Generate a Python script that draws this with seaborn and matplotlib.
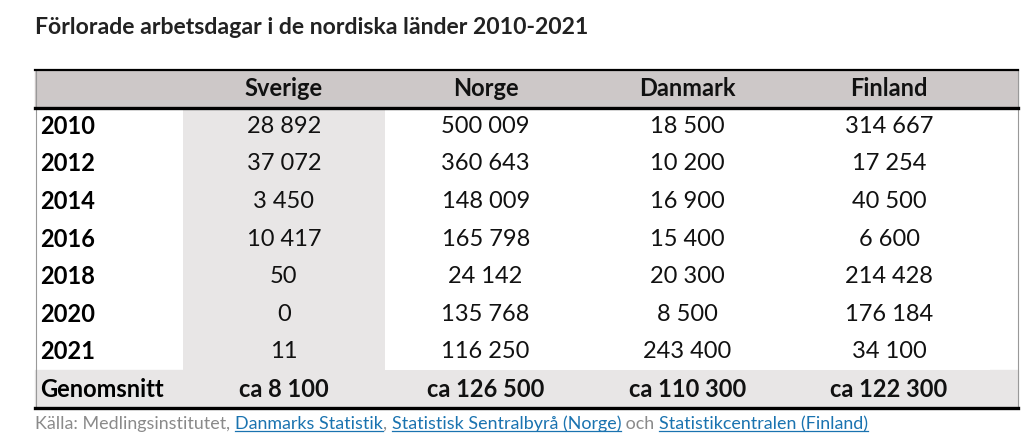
import numpy as np
import pandas as pd
import matplotlib
matplotlib.use("Agg")
import matplotlib.pyplot as plt
import seaborn as sns
from matplotlib.colors import ListedColormap
from matplotlib.patches import Rectangle
from matplotlib.lines import Line2D

title = "Förlorade arbetsdagar i de nordiska länder 2010-2021"
countries = ["Sverige", "Norge", "Danmark", "Finland"]
years = ["2010", "2012", "2014", "2016", "2018", "2020", "2021"]
sverige = ["28 892", "37 072", "3 450", "10 417", "50", "0", "11"]
norge = ["500 009", "360 643", "148 009", "165 798", "24 142", "135 768", "116 250"]
danmark = ["18 500", "10 200", "16 900", "15 400", "20 300", "8 500", "243 400"]
finland = ["314 667", "17 254", "40 500", "6 600", "214 428", "176 184", "34 100"]
avg_label = "Genomsnitt"
averages = ["ca 8 100", "ca 126 500", "ca 110 300", "ca 122 300"]
source_parts = [("Källa: Medlingsinstitutet", False), (", ", False),
                ("Danmarks Statistik", True), (", ", False),
                ("Statistisk Sentralbyrå (Norge)", True), (" och ", False),
                ("Statistikcentralen (Finland)", True)]

plt.rcParams["font.family"] = "Lato"
W, H = 1024, 444
fig = plt.figure(figsize=(W / 100, H / 100), dpi=100)

def fx(x): return x / W
def fy(y): return 1 - y / H

HDR, LIGHT = "#cdc8c8", "#e8e6e6"
top, bottom = 70, 408
rows = len(years) + 2
rh = (bottom - top) / rows
FS = 17

# full-width bands for header and average rows
fig.patches.append(Rectangle((fx(35), fy(top + rh)), fx(983), rh / H, color=HDR, transform=fig.transFigure, zorder=0))
fig.patches.append(Rectangle((fx(35), fy(bottom)), fx(983), rh / H, color=LIGHT, transform=fig.transFigure, zorder=0))

# shading grid for the data columns
shade = np.zeros((rows, 4))
shade[0, :] = 2
shade[1:-1, 0] = 1
shade[-1, :] = 1
labels = [countries] + [list(r) for r in zip(sverige, norge, danmark, finland)] + [averages]
annot = pd.DataFrame(labels)
ax = fig.add_axes([fx(183), fy(bottom), fx(990 - 183), (bottom - top) / H])
sns.heatmap(pd.DataFrame(shade), ax=ax, cmap=ListedColormap(["#ffffff", LIGHT, HDR]), vmin=-0.5, vmax=2.5,
            cbar=False, annot=annot, fmt="", xticklabels=False, yticklabels=False,
            annot_kws={"fontsize": FS, "color": "#111111"})
ax.patch.set_alpha(0)
for t in ax.texts:
    x, y = t.get_position()
    if y < 1 or y > rows - 1:
        t.set_fontweight("bold")
ax.set_zorder(1)

# row labels
for i, lab in enumerate(years + [avg_label]):
    fig.text(fx(40), fy(top + rh * (i + 1.5)), lab, fontsize=FS, fontweight="bold", va="center", ha="left")

# borders
def hline(y, lw, c="black"):
    fig.lines.append(Line2D([fx(35), fx(1018)], [fy(y), fy(y)], lw=lw, color=c, transform=fig.transFigure, zorder=5))
def vline(x):
    fig.lines.append(Line2D([fx(x), fx(x)], [fy(top), fy(bottom)], lw=0.8, color="#999999", transform=fig.transFigure, zorder=5))
vline(35.5); vline(1017.5)
hline(top, 1.6)
hline(top + rh, 2.4)
hline(bottom, 2.4)

fig.text(fx(35), fy(28), title, fontsize=16.6, fontweight="bold", va="center", ha="left", color="#222222")

# source line with underlined links
fig.canvas.draw()
r = fig.canvas.get_renderer()
x = 35
for txt, link in source_parts:
    t = fig.text(fx(x), fy(424), txt, fontsize=12.9, va="center", ha="left",
                 color="#1a73b0" if link else "#8a8a8a")
    bb = t.get_window_extent(r)
    if link:
        fig.lines.append(Line2D([bb.x0 / W, bb.x1 / W], [(bb.y0 + 1) / H, (bb.y0 + 1) / H],
                                lw=0.9, color="#1a73b0", transform=fig.transFigure))
    x += bb.width

fig.savefig("out.png", dpi=100)
